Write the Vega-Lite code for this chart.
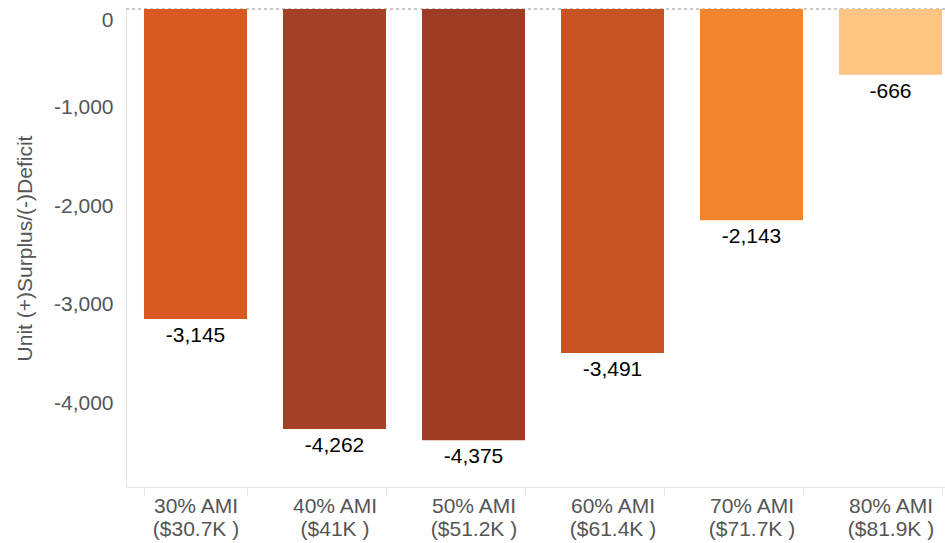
{
  "$schema": "https://vega.github.io/schema/vega-lite/v6.json",
  "autosize": {"type": "none"},
  "width": 819,
  "height": 478,
  "padding": {"left": 126, "top": 9, "right": 0, "bottom": 56},
  "background": "white",
  "config": {
    "font": "Liberation Sans",
    "view": {"stroke": null}
  },
  "data": {
    "values": [
      {"cat": "30% AMI|($30.7K )", "value": -3145, "color": "#D65A22"},
      {"cat": "40% AMI|($41K )", "value": -4262, "color": "#A34025"},
      {"cat": "50% AMI|($51.2K )", "value": -4375, "color": "#9E3B23"},
      {"cat": "60% AMI|($61.4K )", "value": -3491, "color": "#C75422"},
      {"cat": "70% AMI|($71.7K )", "value": -2143, "color": "#F0852D"},
      {"cat": "80% AMI|($81.9K )", "value": -666, "color": "#FFC384"}
    ]
  },
  "layer": [
    {
      "mark": {"type": "rule", "strokeDash": [3, 3], "color": "#c8c8c8"},
      "encoding": {"y": {"datum": 0, "type": "quantitative"}}
    },
    {
      "mark": {"type": "bar"},
      "encoding": {
        "x": {
          "field": "cat",
          "type": "nominal",
          "sort": null,
          "scale": {"paddingInner": 0.259, "paddingOuter": 0.0755, "align": 0.857},
          "axis": {
            "title": null,
            "labelAngle": 0,
            "labelExpr": "split(datum.label, '|')",
            "labelFontSize": 21,
            "labelColor": "#555555",
            "labelLineHeight": 23,
            "labelPadding": 0,
            "tickBand": "extent",
            "tickColor": "#e6e6e6",
            "tickSize": 8,
            "domainColor": "#e6e6e6",
            "grid": false
          }
        },
        "y": {
          "field": "value",
          "type": "quantitative",
          "scale": {"domain": [-4850, 0], "nice": false},
          "axis": {
            "title": "Unit (+)Surplus/(-)Deficit",
            "titleFontSize": 21,
            "titleFontWeight": "normal",
            "titleColor": "#555555",
            "titlePadding": 18,
            "values": [0, -1000, -2000, -3000, -4000],
            "labelExpr": "replace(format(datum.value, ',d'), '\u2212', '-')",
            "labelFontSize": 21,
            "labelColor": "#555555",
            "labelPadding": 13,
            "labelFlush": true,
            "labelFlushOffset": 0,
            "ticks": false,
            "domainColor": "#e6e6e6",
            "gridColor": "#efefef"
          }
        },
        "color": {"field": "color", "type": "nominal", "scale": null}
      }
    },
    {
      "transform": [
        {"calculate": "replace(format(datum.value, ',d'), '\u2212', '-')", "as": "label"}
      ],
      "mark": {"type": "text", "fontSize": 21, "color": "#000000", "baseline": "middle", "dy": 17},
      "encoding": {
        "x": {"field": "cat", "type": "nominal", "sort": null},
        "y": {"field": "value", "type": "quantitative"},
        "text": {"field": "label", "type": "nominal"}
      }
    }
  ]
}
